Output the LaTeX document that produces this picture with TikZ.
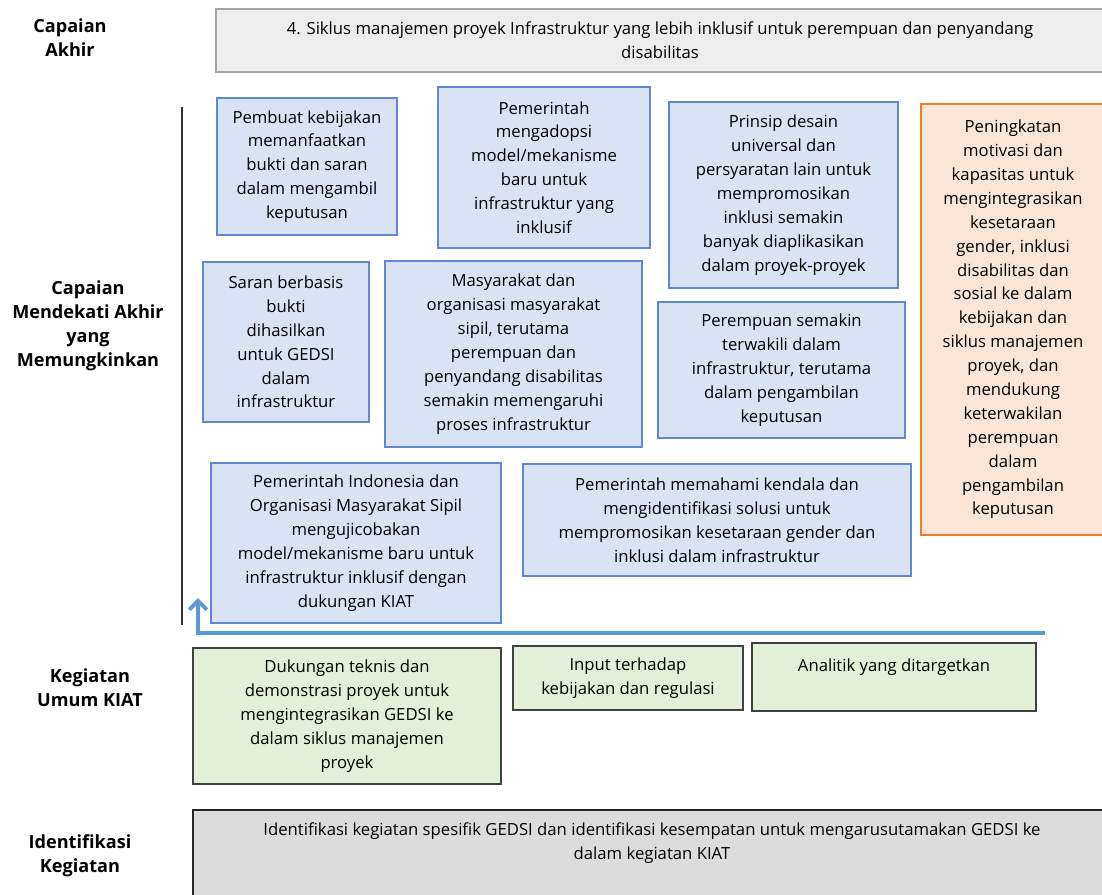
\documentclass[tikz,border=0pt]{standalone}
\usepackage{fontspec}
\setmainfont{Open Sans}
\usetikzlibrary{arrows.meta}
\definecolor{bluefill}{HTML}{DAE3F3}
\definecolor{blueline}{HTML}{6088D2}
\definecolor{orangefill}{HTML}{FBE5D6}
\definecolor{orangeline}{HTML}{ED7D31}
\definecolor{greenfill}{HTML}{E2F0D9}
\definecolor{greyfill}{HTML}{EDEDED}
\definecolor{greyline}{HTML}{A5A5A5}
\definecolor{darkfill}{HTML}{DCDCDC}
\definecolor{arrowblue}{HTML}{5B9BD5}
\tikzset{
  box/.style={draw, rectangle, align=center, inner sep=1pt, line width=0.9pt,
    font=\fontsize{9.5}{13.6}\selectfont},
  outcome/.style={box, fill=bluefill, draw=blueline},
  capacity/.style={box, fill=orangefill, draw=orangeline},
  activity/.style={box, fill=greenfill, draw=black!75},
  goal/.style={box, fill=greyfill, draw=greyline},
  ident/.style={box, fill=darkfill, draw=black!85},
  rowlabel/.style={align=center, font=\fontsize{10.3}{13.6}\selectfont\bfseries}
}
\begin{document}
\begin{tikzpicture}[x=0.02cm, y=-0.02cm]
    \useasboundingbox (0,0) rectangle (1102,895);
    \clip (0,0) rectangle (1102,895);

    % row labels
    \node[rowlabel] (lakhir) at (70,38) {Capaian\\Akhir};
    \node[rowlabel] (lmendekati) at (88,326) {Capaian\\Mendekati Akhir\\yang\\Memungkinkan};
    \node[rowlabel] (lumum) at (90,688) {Kegiatan\\Umum KIAT};
    \node[rowlabel] (lident) at (80,856) {Identifikasi\\Kegiatan};

    % final outcome
    \node[goal, minimum width=17.76cm, minimum height=1.26cm] (akhir) at (660,40.5)
      {4. Siklus manajemen proyek Infrastruktur yang lebih inklusif untuk perempuan dan penyandang\\disabilitas};

    % intermediate outcomes
    \node[outcome, minimum width=3.6cm, minimum height=2.74cm] (pembuat) at (307,166.5)
      {Pembuat kebijakan\\memanfaatkan\\bukti dan saran\\dalam mengambil\\keputusan};
    \node[outcome, minimum width=4.24cm, minimum height=3.22cm] (adopsi) at (544,167.5)
      {Pemerintah\\mengadopsi\\model/mekanisme\\baru untuk\\infrastruktur yang\\inklusif};
    \node[outcome, minimum width=4.58cm, minimum height=3.72cm] (prinsip) at (783.5,195)
      {Prinsip desain\\universal dan\\persyaratan lain untuk\\mempromosikan\\inklusi semakin\\banyak diaplikasikan\\dalam proyek-proyek};
    \node[capacity, minimum width=3.68cm, minimum height=8.62cm] (motivasi) at (1013,319.5)
      {Peningkatan\\motivasi dan\\kapasitas untuk\\mengintegrasikan\\kesetaraan\\gender, inklusi\\disabilitas dan\\sosial ke dalam\\kebijakan dan\\siklus manajemen\\proyek, dan\\mendukung\\keterwakilan\\perempuan\\dalam\\pengambilan\\keputusan};
    \node[outcome, minimum width=3.32cm, minimum height=3.2cm] (saran) at (286,342)
      {Saran berbasis\\bukti\\dihasilkan\\untuk GEDSI\\dalam\\infrastruktur};
    \node[outcome, minimum width=5.14cm, minimum height=3.72cm] (masyarakat) at (513.5,354)
      {Masyarakat dan\\organisasi masyarakat\\sipil, terutama\\perempuan dan\\penyandang disabilitas\\semakin memengaruhi\\proses infrastruktur};
    \node[outcome, minimum width=4.94cm, minimum height=2.72cm] (perempuan) at (781.5,370)
      {Perempuan semakin\\terwakili dalam\\infrastruktur, terutama\\dalam pengambilan\\keputusan};
    \node[outcome, minimum width=5.8cm, minimum height=3.2cm] (ujicoba) at (356,543)
      {Pemerintah Indonesia dan\\Organisasi Masyarakat Sipil\\mengujicobakan\\model/mekanisme baru untuk\\infrastruktur inklusif dengan\\dukungan KIAT};
    \node[outcome, minimum width=7.76cm, minimum height=2.24cm] (memahami) at (717,520)
      {Pemerintah memahami kendala dan\\mengidentifikasi solusi untuk\\mempromosikan kesetaraan gender dan\\inklusi dalam infrastruktur};

    % KIAT activities
    \node[activity, minimum width=6.16cm, minimum height=2.72cm] (dukungan) at (347,716)
      {Dukungan teknis dan\\demonstrasi proyek untuk\\mengintegrasikan GEDSI ke\\dalam siklus manajemen\\proyek};
    \node[activity, minimum width=4.6cm, minimum height=1.28cm] (input) at (628,678)
      {Input terhadap\\kebijakan dan regulasi};
    \node[activity, minimum width=5.68cm, minimum height=1.36cm] (analitik) at (894,677)
      {Analitik yang ditargetkan\\\mbox{}};

    % identification
    \node[ident, minimum width=18.36cm, minimum height=2.2cm] (identifikasi) at (652,865)
      {Identifikasi kegiatan spesifik GEDSI dan identifikasi kesempatan untuk mengarusutamakan GEDSI ke\\dalam kegiatan KIAT\\\mbox{}\\\mbox{}};

    % axis and flow arrow
    \coordinate (axtop) at (182,107);
    \coordinate (axbot) at (182,625);
    \draw[line width=1.1pt, black!80] (axtop) -- (axbot);

    \coordinate (flowstart) at (1045,633);
    \coordinate (flowcorner) at (198,633);
    \coordinate (flowend) at (198,598);
    \draw[line width=2.3pt, arrowblue, -{Straight Barb[length=5pt, width=10pt]}]
      (flowstart) -- (flowcorner) -- (flowend);
\end{tikzpicture}
\end{document}
